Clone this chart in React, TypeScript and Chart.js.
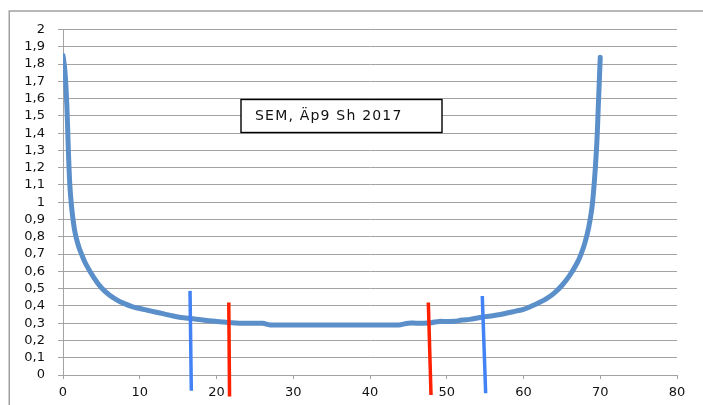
import React, { useEffect, useRef } from "react";
import { Chart, registerables } from "chart.js";

Chart.register(...registerables);

const curveX = [
  0, 0.25, 0.5, 0.75, 1, 1.5, 2, 2.5, 3, 4, 5, 6, 7, 8, 9, 10, 11, 12, 13, 14, 15, 16, 17, 18, 19, 20,
  21, 22, 23, 24, 25, 26, 27, 28, 29, 30, 31, 32, 33, 34, 35, 36, 37, 38, 39, 40, 41, 42, 43, 44,
  45, 46, 47, 48, 49, 50, 51, 52, 53, 54, 55, 56, 57, 58, 59, 60, 61, 62, 63, 64, 65, 66, 67, 67.5,
  68, 68.5, 69, 69.5, 69.75, 70,
];
const curveY = [
  1.85, 1.76, 1.56, 1.24, 1.03, 0.84, 0.75, 0.69, 0.64, 0.565, 0.505, 0.465, 0.435, 0.413, 0.396, 0.385,
  0.375, 0.365, 0.355, 0.345, 0.336, 0.33, 0.325, 0.32, 0.314, 0.31, 0.307, 0.302, 0.3, 0.3, 0.3, 0.299,
  0.29, 0.29, 0.29, 0.29, 0.29, 0.29, 0.29, 0.29, 0.29, 0.29, 0.29, 0.29, 0.29, 0.29, 0.29, 0.29, 0.29,
  0.291, 0.3, 0.3, 0.3, 0.303, 0.31, 0.31, 0.311, 0.318, 0.322, 0.33, 0.338, 0.343, 0.35, 0.36, 0.37, 0.38,
  0.398, 0.418, 0.442, 0.474, 0.518, 0.575, 0.65, 0.7, 0.765, 0.855, 1.0, 1.3, 1.56, 1.84,
];

const blueLeftX = [16.55, 16.72];
const blueLeftY = [0.487, -0.091];
const redLeftX = [21.6, 21.7];
const redLeftY = [0.42, -0.125];
const redRightX = [47.6, 47.95];
const redRightY = [0.42, -0.116];
const blueRightX = [54.63, 55.07];
const blueRightY = [0.457, -0.106];

const boxLabel = "SEM, Äp9 Sh 2017";

const xMin = 0;
const xMax = 80;
const xStep = 10;
const yMin = 0;
const yMax = 2;
const yStep = 0.1;

const pts = (xs: number[], ys: number[]) => xs.map((x, i) => ({ x, y: ys[i] }));

const fmt = (v: number) => {
  const r = Math.round(v * 10) / 10;
  return String(r).replace(".", ",");
};

export default function App() {
  const ref = useRef<HTMLCanvasElement | null>(null);

  useEffect(() => {
    if (!ref.current) return;
    const GRID = "#a3a3a3";
    const decor = {
      id: "decor",
      beforeDraw(chart: any) {
        const ctx = chart.ctx;
        ctx.save();
        ctx.fillStyle = "#ffffff";
        ctx.fillRect(0, 0, chart.width, chart.height);
        ctx.strokeStyle = "#a0a0a0";
        ctx.lineWidth = 1.5;
        ctx.strokeRect(9.25, 11, 900, 600);
        ctx.restore();
      },
      afterDraw(chart: any) {
        const ctx = chart.ctx;
        ctx.save();
        ctx.fillStyle = "#ffffff";
        ctx.fillRect(241, 99.5, 201, 33);
        ctx.strokeStyle = "#000000";
        ctx.lineWidth = 1.4;
        ctx.strokeRect(241, 99.5, 201, 33);
        ctx.fillStyle = "#111111";
        ctx.font = '14px "DejaVu Sans"';
        try {
          (ctx as any).letterSpacing = "1.2px";
        } catch (e) {}
        ctx.textBaseline = "alphabetic";
        ctx.textAlign = "left";
        ctx.fillText(boxLabel, 255, 119.5);
        ctx.restore();
      },
    };

    const vline = (xs: number[], ys: number[], color: string) => ({
      data: pts(xs, ys),
      borderColor: color,
      borderWidth: 3.5,
      pointRadius: 0,
      clip: false as any,
      tension: 0,
      fill: false,
    });

    const chart = new Chart(ref.current, {
      type: "line",
      data: {
        datasets: [
          {
            data: pts(curveX, curveY),
            borderColor: "#5b8fca",
            borderWidth: 5,
            pointRadius: 0,
            tension: 0.4,
            borderCapStyle: "round",
            borderJoinStyle: "round",
            fill: false,
            order: 5,
          } as any,
          vline(blueLeftX, blueLeftY, "#4282f5"),
          vline(redLeftX, redLeftY, "#ff2000"),
          vline(redRightX, redRightY, "#ff2000"),
          vline(blueRightX, blueRightY, "#4282f5"),
        ],
      },
      options: {
        animation: false,
        responsive: false,
        devicePixelRatio: 1,
        layout: { padding: { left: 0, top: 29.5, right: 26, bottom: 0 } },
        plugins: { legend: { display: false }, tooltip: { enabled: false } },
        scales: {
          x: {
            type: "linear",
            min: xMin,
            max: xMax,
            afterFit: (s: any) => {
              s.height = 30;
            },
            ticks: {
              stepSize: xStep,
              autoSkip: false,
              color: "#111111",
              font: { family: "DejaVu Sans", size: 13 },
              padding: 6,
              maxRotation: 0,
              callback: (v: any) => String(v),
            },
            grid: { display: true, drawOnChartArea: false, drawTicks: true, tickLength: 4, color: GRID },
            border: { display: true, color: GRID, width: 1 },
          },
          y: {
            type: "linear",
            min: yMin,
            max: yMax,
            afterFit: (s: any) => {
              s.width = 63;
            },
            ticks: {
              stepSize: yStep,
              autoSkip: false,
              color: "#111111",
              font: { family: "DejaVu Sans", size: 13 },
              padding: 13,
              callback: (v: any) => fmt(Number(v)),
            },
            grid: { display: true, drawTicks: true, tickLength: 5, color: GRID, lineWidth: 1 },
            border: { display: true, color: GRID, width: 1 },
          },
        },
      },
      plugins: [decor],
    });
    return () => chart.destroy();
  }, []);

  return (
    <div style={{ position: "fixed", left: 0, top: 0, width: 703, height: 405, background: "#fff" }}>
      <canvas ref={ref} width={703} height={405} style={{ display: "block" }} />
    </div>
  );
}
